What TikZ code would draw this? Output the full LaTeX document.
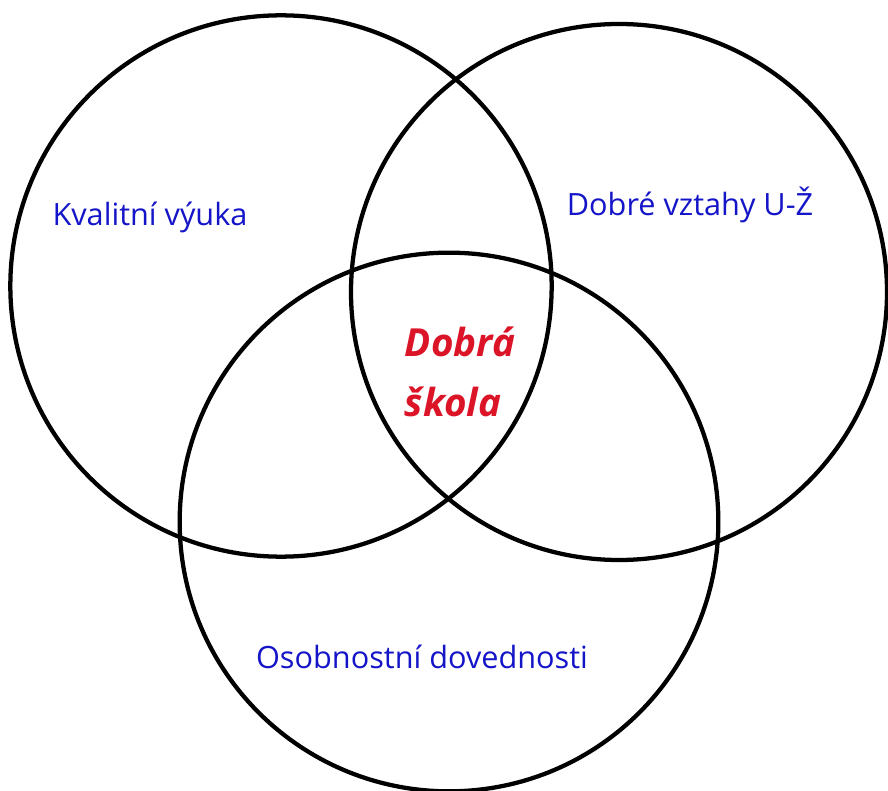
\documentclass[tikz,border=0pt]{standalone}
\usepackage{fontspec}
\setmainfont{Open Sans}
\usepackage{xcolor}
\usetikzlibrary{positioning}

\definecolor{labelblue}{RGB}{20,20,200}
\definecolor{labelred}{RGB}{220,20,40}

\begin{document}
\begin{tikzpicture}[
    x=0.75pt,
    y=-0.75pt,
    ring/.style={
        circle,
        draw=black,
        line width=3.2pt,
        inner sep=0pt
    },
    area/.style={
        font=\fontsize{23}{27}\selectfont,
        text=labelblue,
        inner sep=0pt
    },
    core/.style={
        font=\fontsize{29}{45}\selectfont\bfseries\itshape,
        text=labelred,
        align=left,
        inner sep=0pt
    }
]

\useasboundingbox[fill=white] (0,0) rectangle (888,791);

% =========================================================
% Circles
% =========================================================
\node[ring, minimum size=406pt] (teach) at (281,286) {};
\node[ring, minimum size=402pt] (relat) at (619,292) {};
\node[ring, minimum size=404pt] (skill) at (449,522) {};

% =========================================================
% Labels
% =========================================================
\node[area] (teachlbl) at (150,217) {Kvalitní výuka};
\node[area] (relatlbl) at (690,205) {Dobré vztahy U-Ž};
\node[area] (skilllbl) at (422,657) {Osobnostní dovednosti};

\node[core] (school) at (460,372) {Dobrá\\škola};

\end{tikzpicture}
\end{document}
